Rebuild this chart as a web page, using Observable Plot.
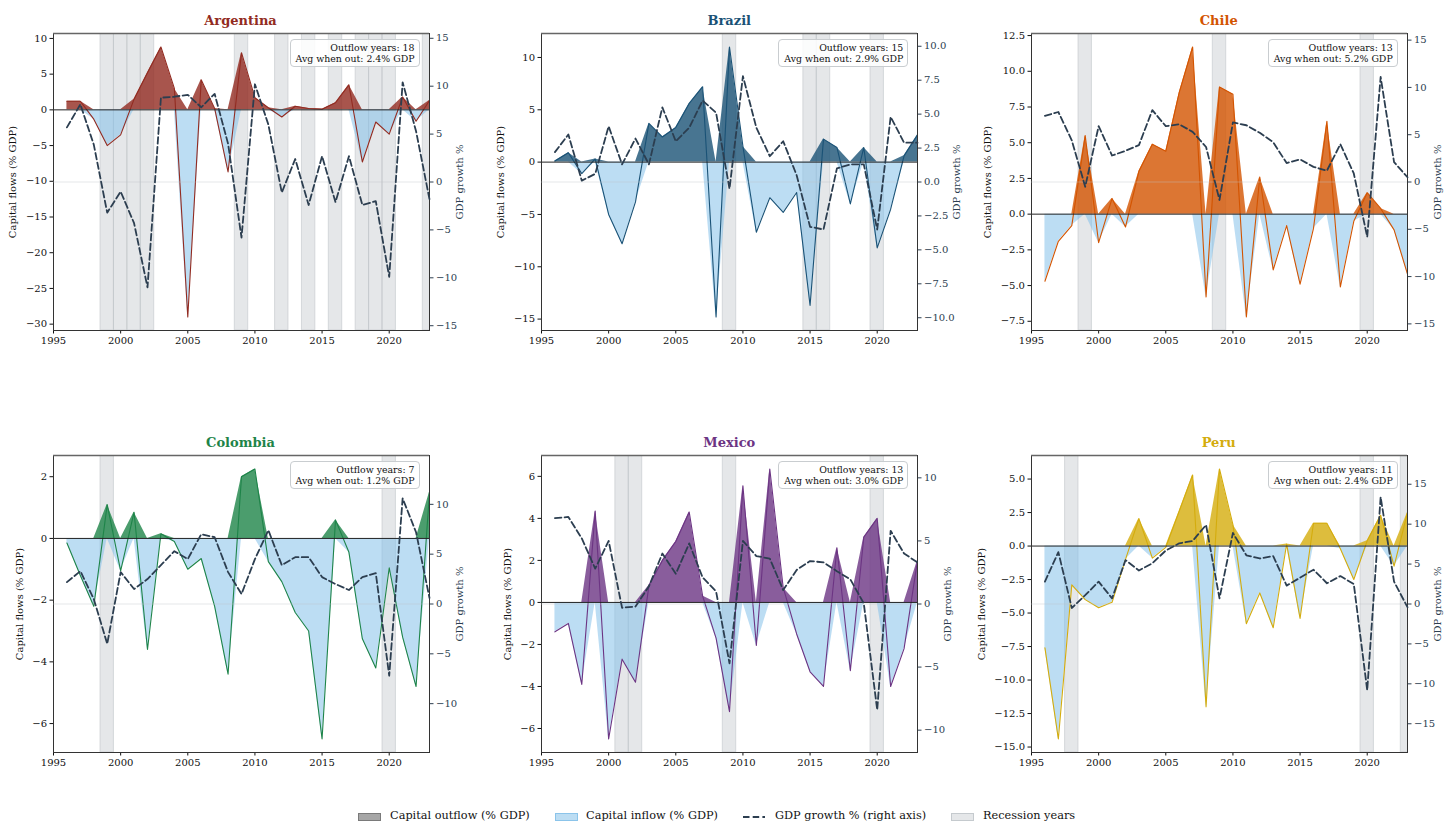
<!DOCTYPE html>
<html>
<head>
<meta charset="utf-8">
<script src="https://cdn.jsdelivr.net/npm/d3@7"></script>
<script src="https://cdn.jsdelivr.net/npm/@observablehq/plot@0.6"></script>
<style>
  html, body { margin: 0; padding: 0; background: #fff; }
  #fig { position: relative; width: 1456px; height: 836px; overflow: hidden; font-family: "DejaVu Serif", serif; }
  .layer { position: absolute; }
  .title { position: absolute; width: 300px; text-align: center; font-weight: bold; font-size: 13px; line-height: 16px; }
  .note { position: absolute; background: rgba(255,255,255,0.85); border: 1px solid #c9cdd0; border-radius: 4px;
          padding: 2px 4px 2px 5px; text-align: right; font-size: 9.4px; line-height: 11px; color: #111; white-space: nowrap; }
  .leg { position: absolute; font-size: 11.3px; color: #111; white-space: nowrap; line-height: 14px; }
  .patch { position: absolute; width: 23px; height: 8px; }
</style>
</head>
<body>
<div id="fig"></div>
<script>
// ---------------- data ----------------
const years = [1996, 1997, 1998, 1999, 2000, 2001, 2002, 2003, 2004, 2005, 2006, 2007, 2008, 2009,
               2010, 2011, 2012, 2013, 2014, 2015, 2016, 2017, 2018, 2019, 2020, 2021, 2022, 2023];

const countries = ["Argentina", "Brazil", "Chile", "Colombia", "Mexico", "Peru"];
const countryColors = ["#922B21", "#1A5276", "#D35400", "#1E8449", "#6C3483", "#D4AC0D"];

// Capital flows (% GDP): positive = outflow, negative = inflow
const argFlows = [1.2, 1.2, -1.3, -5.0, -3.5, 1.5, 5.2, 8.8, 3.0, -29.0, 4.2, 0.2, -8.7, 8.0, 1.7, 0.3, -1.0, 0.5, 0.2, 0.1, 1.0, 3.5, -7.3, -1.7, -3.4, 1.8, -1.6, 1.3];
const braFlows = [0.1, 0.9, -1.1, 0.3, -5.0, -7.8, -3.8, 3.7, 2.4, 3.3, 5.6, 7.2, -14.8, 11.0, 1.5, -6.7, -3.4, -4.8, -2.9, -13.7, 2.2, 1.4, -4.0, 1.4, -8.2, -4.5, 0.6, 2.6];
const chiFlows = [-4.7, -1.9, -0.8, 5.5, -2.0, 1.1, -0.9, 3.0, 4.9, 4.4, 8.5, 11.7, -5.8, 8.9, 8.4, -7.2, 2.6, -3.9, -0.8, -4.9, -1.0, 6.5, -5.1, -0.5, 1.5, 0.4, -1.1, -4.2];
const colFlows = [-0.15, -1.2, -2.2, 1.1, -1.05, 0.85, -3.6, 0.15, -0.1, -1.0, -0.65, -2.2, -4.4, 2.0, 2.25, -0.75, -1.4, -2.4, -3.0, -6.5, 0.6, -0.45, -3.25, -4.2, -0.95, -3.2, -4.8, 1.5];
const mexFlows = [-1.4, -1.0, -3.9, 4.35, -6.5, -2.7, -3.8, 0.8, 2.0, 2.9, 4.3, 0.3, -1.7, -5.2, 5.55, -2.05, 6.35, 0.7, -1.5, -3.3, -4.0, 2.6, -3.25, 3.1, 4.0, -4.0, -2.2, 2.0];
const perFlows = [-7.6, -14.4, -2.9, -4.0, -4.6, -4.2, -1.0, 2.05, -0.9, -0.1, 2.6, 5.3, -12.0, 5.75, 1.6, -5.8, -3.5, -6.1, 0.15, -5.4, 1.7, 1.7, -0.2, -2.5, 0.4, 2.3, -1.5, 2.5];

// GDP growth %
const argGdp = [5.7, 8.1, 3.9, -3.2, -1.0, -4.3, -11.0, 8.8, 8.9, 9.1, 7.8, 9.2, 4.0, -5.8, 10.2, 6.0, -1.1, 2.4, -2.4, 2.7, -2.1, 2.7, -2.4, -2.0, -9.9, 10.4, 5.3, -1.8];
const braGdp = [2.2, 3.5, 0.1, 0.6, 4.1, 1.3, 3.2, 1.3, 5.5, 3.0, 4.0, 6.0, 5.1, -0.5, 7.8, 4.0, 1.9, 3.0, 0.5, -3.3, -3.5, 1.0, 1.3, 1.3, -3.5, 4.8, 2.9, 2.9];
const chiGdp = [7.0, 7.4, 4.4, -0.5, 5.9, 2.8, 3.3, 3.9, 7.6, 5.9, 6.1, 5.3, 3.7, -1.9, 6.3, 6.0, 5.2, 4.2, 2.0, 2.4, 1.6, 1.2, 4.0, 0.9, -5.8, 11.1, 2.1, 0.5];
const colGdp = [2.2, 3.3, 0.5, -4.0, 3.2, 1.5, 2.5, 3.9, 5.3, 4.5, 7.0, 6.7, 3.2, 1.0, 4.5, 7.4, 3.9, 4.7, 4.7, 2.7, 2.0, 1.4, 2.7, 3.1, -7.2, 10.6, 7.2, 0.6];
const mexGdp = [6.8, 6.9, 5.2, 2.8, 5.0, -0.3, -0.2, 1.4, 4.0, 2.4, 4.8, 2.1, 1.0, -4.7, 5.0, 3.8, 3.6, 1.1, 2.7, 3.4, 3.3, 2.6, 1.95, 0.05, -8.4, 5.8, 4.0, 3.3];
const perGdp = [2.8, 6.5, -0.5, 1.1, 2.8, 0.7, 5.5, 4.2, 5.1, 6.7, 7.6, 7.9, 9.9, 0.7, 8.9, 6.1, 5.7, 6.0, 2.3, 3.3, 4.3, 2.6, 3.5, 2.5, -10.8, 13.4, 2.8, -0.4];

// Recession years (shaded)
const argRecessions = [1999, 2000, 2001, 2002, 2009, 2012, 2014, 2016, 2018, 2019, 2020, 2023];
const braRecessions = [2009, 2015, 2016, 2020];
const chiRecessions = [1999, 2009, 2020];
const colRecessions = [1999, 2020];
const mexRecessions = [2001, 2002, 2009, 2020];
const perRecessions = [1998, 2020, 2023];

// Annotation values
const outflowYears = [18, 15, 13, 7, 13, 11];
const avgWhenOut = ["2.4", "2.9", "5.2", "1.2", "3.0", "2.4"];

// Tick labels
const xTicks = [1995, 2000, 2005, 2010, 2015, 2020];
const argLeftTicks = [-30, -25, -20, -15, -10, -5, 0, 5, 10];
const braLeftTicks = [-15, -10, -5, 0, 5, 10];
const chiLeftTicks = [-7.5, -5, -2.5, 0, 2.5, 5, 7.5, 10, 12.5];
const colLeftTicks = [-6, -4, -2, 0, 2];
const mexLeftTicks = [-6, -4, -2, 0, 2, 4, 6];
const perLeftTicks = [-15, -12.5, -10, -7.5, -5, -2.5, 0, 2.5, 5];
const argRightTicks = [-15, -10, -5, 0, 5, 10, 15];
const braRightTicks = [-10, -7.5, -5, -2.5, 0, 2.5, 5, 7.5, 10];
const chiRightTicks = [-15, -10, -5, 0, 5, 10, 15];
const colRightTicks = [-10, -5, 0, 5, 10];
const mexRightTicks = [-10, -5, 0, 5, 10];
const perRightTicks = [-15, -10, -5, 0, 5, 10, 15];

// right-axis (GDP) half-range
const gdpLimits = [15.5, 10.94, 15.7, 14.9, 11.77, 18.6];

// ---------------- build ----------------
const flowsAll = [argFlows, braFlows, chiFlows, colFlows, mexFlows, perFlows];
const gdpAll = [argGdp, braGdp, chiGdp, colGdp, mexGdp, perGdp];
const recAll = [argRecessions, braRecessions, chiRecessions, colRecessions, mexRecessions, perRecessions];
const leftTicksAll = [argLeftTicks, braLeftTicks, chiLeftTicks, colLeftTicks, mexLeftTicks, perLeftTicks];
const rightTicksAll = [argRightTicks, braRightTicks, chiRightTicks, colRightTicks, mexRightTicks, perRightTicks];
const leftFmt = ["d", "d", ".1f", "d", "d", ".1f"];
const rightFmt = ["d", ".1f", "d", "d", "d", "d"];
const leftLabelOffset = [45, 45, 48, 38, 38, 54];
const rightLabelOffset = [33, 42, 33, 33, 33, 33];

const fig = document.getElementById("fig");
const colLeft = [52.5, 541.3, 1030.7];
const rowTop = [33.3, 455];
const AW = 376, AH = 297;
const ML = 62, MR = 62, MT = 30, MB = 32;
const W = ML + AW + MR, H = MT + AH + MB;
const INFLOW = "#85C1E9";
const GDPCOL = "#2C3E50";

countries.forEach((name, k) => {
  const col = k % 3, row = Math.floor(k / 3);
  const axL = colLeft[col], axT = rowTop[row];
  const color = countryColors[k];
  const flows = flowsAll[k], gdp = gdpAll[k];
  const table = years.map((y, i) => ({year: y, flow: flows[i], gdp: gdp[i]}));
  const ext = d3.extent(flows);
  const pad = (ext[1] - ext[0]) * 0.05;
  const leftDom = [ext[0] - pad, ext[1] + pad];
  const lim = gdpLimits[k];
  const style = {background: "transparent", fontFamily: "DejaVu Serif, serif", fontSize: "10px", color: "#111", overflow: "visible"};

  const main = Plot.plot({
    width: W, height: H, marginLeft: ML, marginRight: MR, marginTop: MT, marginBottom: MB,
    style,
    x: {domain: [1995, 2023]},
    y: {domain: leftDom},
    marks: [
      Plot.rect(recAll[k], {x1: d => d - 0.5, x2: d => d + 0.5, y1: () => leftDom[0], y2: () => leftDom[1],
        fill: "#BDC3C7", fillOpacity: 0.4, stroke: "#BDC3C7", strokeOpacity: 0.55, strokeWidth: 1, clip: true}),
      Plot.areaY(table, {x: "year", y1: () => 0, y2: d => Math.min(d.flow, 0), fill: INFLOW, fillOpacity: 0.55, curve: "linear"}),
      Plot.areaY(table, {x: "year", y1: () => 0, y2: d => Math.max(d.flow, 0), fill: color, fillOpacity: 0.8, curve: "linear"}),
      Plot.line(table, {x: "year", y: "flow", stroke: color, strokeWidth: 1.1}),
      Plot.ruleY([0], {stroke: "#222", strokeWidth: 1}),
      Plot.axisX(xTicks, {tickFormat: d3.format("d"), tickSize: 3.5, tickPadding: 3, label: null}),
      Plot.axisY(leftTicksAll[k], {anchor: "left", tickFormat: d3.format(leftFmt[k]), tickSize: 3.5, tickPadding: 3,
        label: "Capital flows (% GDP)", labelAnchor: "center", labelArrow: "none", labelOffset: leftLabelOffset[k]}),
      Plot.frame({stroke: "#333", strokeWidth: 1}),
      Plot.ruleY([leftDom[1]], {stroke: "#666", strokeWidth: 1.6})
    ]
  });

  const twin = Plot.plot({
    width: W, height: H, marginLeft: ML, marginRight: MR, marginTop: MT, marginBottom: MB,
    style,
    x: {domain: [1995, 2023], axis: null},
    y: {domain: [-lim, lim]},
    marks: [
      Plot.ruleY([0], {stroke: "#BDC3C7", strokeOpacity: 0.5, strokeWidth: 0.8}),
      Plot.line(table, {x: "year", y: "gdp", stroke: GDPCOL, strokeWidth: 1.8, strokeDasharray: "6.5,3.2"}),
      Plot.axisY(rightTicksAll[k], {anchor: "right", tickFormat: d3.format(rightFmt[k]), tickSize: 3.5, tickPadding: 3,
        color: GDPCOL, label: "GDP growth %", labelAnchor: "center", labelArrow: "none", labelOffset: rightLabelOffset[k]})
    ]
  });

  for (const svg of [main, twin]) {
    svg.classList.add("layer");
    svg.style.left = (axL - ML) + "px";
    svg.style.top = (axT - MT) + "px";
    fig.appendChild(svg);
  }

  const t = document.createElement("div");
  t.className = "title";
  t.textContent = name;
  t.style.color = color;
  t.style.left = (axL + AW / 2 - 150) + "px";
  t.style.top = (axT - 20) + "px";
  fig.appendChild(t);

  const n = document.createElement("div");
  n.className = "note";
  n.innerHTML = `Outflow years: ${outflowYears[k]}<br>Avg when out: ${avgWhenOut[k]}% GDP`;
  n.style.right = (1456 - (axL + AW - 9)) + "px";
  n.style.top = (axT + 5.5) + "px";
  fig.appendChild(n);
});

// ---------------- legend ----------------
const legendItems = [
  {type: "patch", fill: "rgba(128,128,128,0.7)", border: "#7a7a7a", label: "Capital outflow (% GDP)", px: 357.5, tx: 390},
  {type: "patch", fill: "rgba(133,193,233,0.55)", border: "rgba(133,193,233,0.9)", label: "Capital inflow (% GDP)", px: 554.5, tx: 586},
  {type: "line", label: "GDP growth % (right axis)", px: 743, tx: 775},
  {type: "patch", fill: "rgba(189,195,199,0.4)", border: "rgba(189,195,199,0.8)", label: "Recession years", px: 950.5, tx: 983}
];
const legY = 817;
legendItems.forEach(it => {
  if (it.type === "patch") {
    const p = document.createElement("div");
    p.className = "patch";
    p.style.left = it.px + "px";
    p.style.top = (legY - 4) + "px";
    p.style.background = it.fill;
    p.style.border = "1px solid " + it.border;
    p.style.boxSizing = "border-box";
    fig.appendChild(p);
  } else {
    const s = document.createElementNS("http://www.w3.org/2000/svg", "svg");
    s.setAttribute("width", 22); s.setAttribute("height", 6);
    s.style.position = "absolute"; s.style.left = it.px + "px"; s.style.top = (legY - 3) + "px";
    s.innerHTML = `<line x1="0" y1="3" x2="22" y2="3" stroke="${GDPCOL}" stroke-width="2" stroke-dasharray="6.5,3.2"/>`;
    fig.appendChild(s);
  }
  const l = document.createElement("div");
  l.className = "leg";
  l.textContent = it.label;
  l.style.left = it.tx + "px";
  l.style.top = (legY - 8) + "px";
  fig.appendChild(l);
});
</script>
</body>
</html>
